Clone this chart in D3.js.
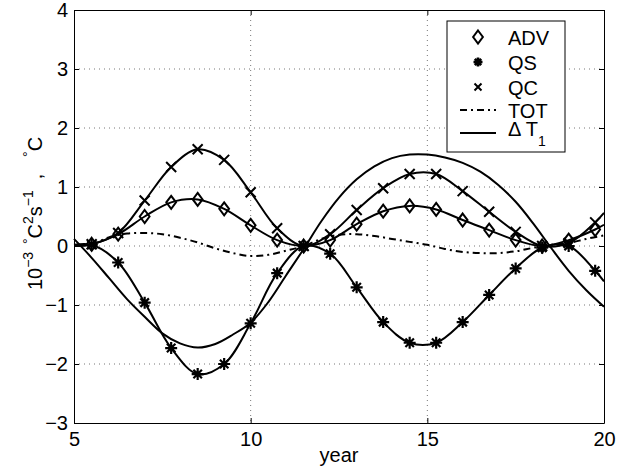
<!DOCTYPE html>
<html>
<head>
<meta charset="utf-8">
<script src="https://cdn.jsdelivr.net/npm/d3@7"></script>
<style>
  body { margin: 0; background: #fff; }
  svg { font-family: "Liberation Sans", Arial, sans-serif; }
  .axis path, .axis line { stroke: #000; }
  .axis text { font-size: 20px; fill: #000; }
</style>
</head>
<body>
<div id="chart"></div>
<script>
// years where the marked curves were sampled (markers shown from 5.5 to 19.75)
var years = [5, 5.5, 6.25, 7, 7.75, 8.5, 9.25, 10, 10.75, 11.5, 12.25, 13, 13.75,
             14.5, 15.25, 16, 16.75, 17.5, 18.25, 19, 19.75, 20];
var adv = [0.0, 0.03, 0.2, 0.5, 0.74, 0.79, 0.63, 0.35, 0.1, 0.0, 0.1, 0.37, 0.59,
           0.68, 0.62, 0.44, 0.27, 0.1, 0.0, 0.1, 0.28, 0.36];
var qs = [0.02, 0.02, -0.28, -0.96, -1.73, -2.17, -2.0, -1.31, -0.46, 0.0, -0.13, -0.7, -1.29,
          -1.64, -1.64, -1.29, -0.83, -0.38, -0.03, 0.0, -0.42, -0.6];
var qc = [0.0, 0.03, 0.22, 0.77, 1.34, 1.64, 1.46, 0.91, 0.3, 0.0, 0.2, 0.61, 0.98,
          1.22, 1.22, 0.93, 0.58, 0.24, 0.0, 0.05, 0.4, 0.56];

// unmarked curves, sampled every half year
var lineYears = [5, 5.5, 6, 6.5, 7, 7.5, 8, 8.5, 9, 9.5, 10, 10.5, 11, 11.5, 12, 12.5,
                 13, 13.5, 14, 14.5, 15, 15.5, 16, 16.5, 17, 17.5, 18, 18.5, 19, 19.5, 20];
var tot = [0.0, 0.03, 0.15, 0.21, 0.22, 0.2, 0.14, 0.06, -0.04, -0.12, -0.17, -0.15, -0.08, 0.0,
           0.12, 0.19, 0.2, 0.17, 0.12, 0.07, 0.02, -0.05, -0.1, -0.12, -0.12, -0.09, -0.03,
           0.02, 0.05, 0.12, 0.18];
var dT1 = [0.12, -0.2, -0.55, -0.9, -1.2, -1.48, -1.65, -1.72, -1.66, -1.5, -1.3, -0.95, -0.5,
           -0.05, 0.42, 0.82, 1.13, 1.35, 1.49, 1.55, 1.55, 1.5, 1.41, 1.26, 1.04, 0.75, 0.38,
           -0.03, -0.42, -0.75, -1.03];

var xTicks = [5, 10, 15, 20];
var yTicks = [-3, -2, -1, 0, 1, 2, 3, 4];
var legendNames = ["ADV", "QS", "QC", "TOT"];

var width = 622, height = 471;
var pLeft = 74, pRight = 604, pTop = 10, pBottom = 423;

var svg = d3.select("#chart").append("svg")
    .attr("width", width)
    .attr("height", height);

var x = d3.scaleLinear().domain([5, 20]).range([pLeft, pRight]);
var y = d3.scaleLinear().domain([-3, 4]).range([pBottom, pTop]);

// dotted grid
var grid = svg.append("g").attr("class", "grid");
grid.selectAll(".gx").data(xTicks.slice(1, -1)).enter().append("line")
    .attr("x1", function(d) { return x(d); }).attr("x2", function(d) { return x(d); })
    .attr("y1", pTop).attr("y2", pBottom);
grid.selectAll(".gy").data(yTicks.slice(1, -1)).enter().append("line")
    .attr("x1", pLeft).attr("x2", pRight)
    .attr("y1", function(d) { return y(d); }).attr("y2", function(d) { return y(d); });
grid.selectAll("line")
    .attr("stroke", "#777")
    .attr("stroke-width", 1)
    .attr("stroke-dasharray", "1,4");

// axes, MATLAB style: ticks pointing inward on all four sides
svg.append("g").attr("class", "axis")
    .attr("transform", "translate(0," + pBottom + ")")
    .call(d3.axisBottom(x).tickValues(xTicks).tickSizeInner(-5).tickSizeOuter(0).tickPadding(9));
svg.append("g").attr("class", "axis")
    .attr("transform", "translate(" + pLeft + ",0)")
    .call(d3.axisLeft(y).tickValues(yTicks).tickSizeInner(-5).tickSizeOuter(0).tickPadding(6)
        .tickFormat(function(d) { return d < 0 ? "\u2212" + Math.abs(d) : d; }));
svg.append("g").attr("class", "axis")
    .attr("transform", "translate(0," + pTop + ")")
    .call(d3.axisTop(x).tickValues(xTicks).tickSizeInner(-5).tickSizeOuter(0).tickFormat(""));
svg.append("g").attr("class", "axis")
    .attr("transform", "translate(" + pRight + ",0)")
    .call(d3.axisRight(y).tickValues(yTicks).tickSizeInner(-5).tickSizeOuter(0).tickFormat(""));

// axis labels
svg.append("text")
    .attr("x", (pLeft + pRight) / 2)
    .attr("y", 462)
    .attr("text-anchor", "middle")
    .style("font-size", "20px")
    .text("year");

var ylab = svg.append("text")
    .attr("transform", "translate(42," + ((pTop + pBottom) / 2 - 3) + ") rotate(-90)")
    .attr("text-anchor", "middle")
    .style("font-size", "20px")
    .attr("xml:space", "preserve");
ylab.append("tspan").text("10");
ylab.append("tspan").attr("dy", -9).style("font-size", "14px").text("\u22123  \u00b0");
ylab.append("tspan").attr("dy", 9).text("C");
ylab.append("tspan").attr("dy", -9).style("font-size", "14px").text("2");
ylab.append("tspan").attr("dy", 9).text("s");
ylab.append("tspan").attr("dy", -9).style("font-size", "14px").text("\u22121");
ylab.append("tspan").attr("dy", 9).text("  ,   ");
ylab.append("tspan").attr("dy", -9).style("font-size", "14px").text("\u00b0");
ylab.append("tspan").attr("dy", 9).text("C");

// curves
var plot = svg.append("g");
var smooth = d3.curveCatmullRom.alpha(0.5);

function drawLine(xs, ys, dash) {
    var pts = xs.map(function(d, i) { return [d, ys[i]]; });
    plot.append("path")
        .datum(pts)
        .attr("fill", "none")
        .attr("stroke", "#000")
        .attr("stroke-width", 2)
        .attr("stroke-dasharray", dash)
        .attr("d", d3.line().curve(smooth)
            .x(function(d) { return x(d[0]); })
            .y(function(d) { return y(d[1]); }));
}

drawLine(lineYears, tot, "7,4,2,4");
drawLine(lineYears, dT1, null);
drawLine(years, adv, null);
drawLine(years, qs, null);
drawLine(years, qc, null);

// marker shapes
function diamond(g, s) {
    g.append("path")
        .attr("d", "M0," + (-s) + "L" + (s * 0.75) + ",0L0," + s + "L" + (-s * 0.75) + ",0Z")
        .attr("fill", "none").attr("stroke", "#000").attr("stroke-width", 2);
}
function asterisk(g, s, w) {
    var p = "";
    [0, 45, 90, 135].forEach(function(a) {
        var r = a * Math.PI / 180;
        p += "M" + (-s * Math.cos(r)) + "," + (-s * Math.sin(r)) + "L" + (s * Math.cos(r)) + "," + (s * Math.sin(r));
    });
    g.append("path").attr("d", p).attr("stroke", "#000").attr("stroke-width", w || 2.2);
}
function cross(g, s) {
    g.append("path")
        .attr("d", "M" + (-s) + "," + (-s) + "L" + s + "," + s + "M" + (-s) + "," + s + "L" + s + "," + (-s))
        .attr("stroke", "#000").attr("stroke-width", 2);
}

function drawMarkers(ys, shape, s) {
    years.forEach(function(d, i) {
        if (i === 0 || i === years.length - 1) return;
        var g = plot.append("g").attr("transform", "translate(" + x(d) + "," + y(ys[i]) + ")");
        shape(g, s);
    });
}
drawMarkers(adv, diamond, 6.5);
drawMarkers(qs, asterisk, 6);
drawMarkers(qc, cross, 5);

// legend
var leg = svg.append("g");
leg.append("rect")
    .attr("x", 447).attr("y", 21).attr("width", 118).attr("height", 131)
    .attr("fill", "#fff").attr("stroke", "#000").attr("stroke-width", 1);

var rowY = [37, 62, 87, 110, 133];
var symX = 478;
diamond(leg.append("g").attr("transform", "translate(" + symX + "," + rowY[0] + ")"), 6.5);
asterisk(leg.append("g").attr("transform", "translate(" + symX + "," + rowY[1] + ")"), 4.5, 2.6);
cross(leg.append("g").attr("transform", "translate(" + symX + "," + rowY[2] + ")"), 3.5);
leg.append("line").attr("x1", 460).attr("x2", 496).attr("y1", rowY[3]).attr("y2", rowY[3])
    .attr("stroke", "#000").attr("stroke-width", 2).attr("stroke-dasharray", "7,4,2,4");
leg.append("line").attr("x1", 460).attr("x2", 496).attr("y1", rowY[4]).attr("y2", rowY[4])
    .attr("stroke", "#000").attr("stroke-width", 2);

legendNames.forEach(function(n, i) {
    leg.append("text")
        .attr("x", 508).attr("y", rowY[i] + 7.5)
        .style("font-size", "20px")
        .text(n);
});
var dt = leg.append("text")
    .attr("x", 508).attr("y", rowY[4] + 3)
    .style("font-size", "20px");
dt.append("tspan").text("\u0394 T");
dt.append("tspan").attr("dy", 10).style("font-size", "14px").text("1");
</script>
</body>
</html>
